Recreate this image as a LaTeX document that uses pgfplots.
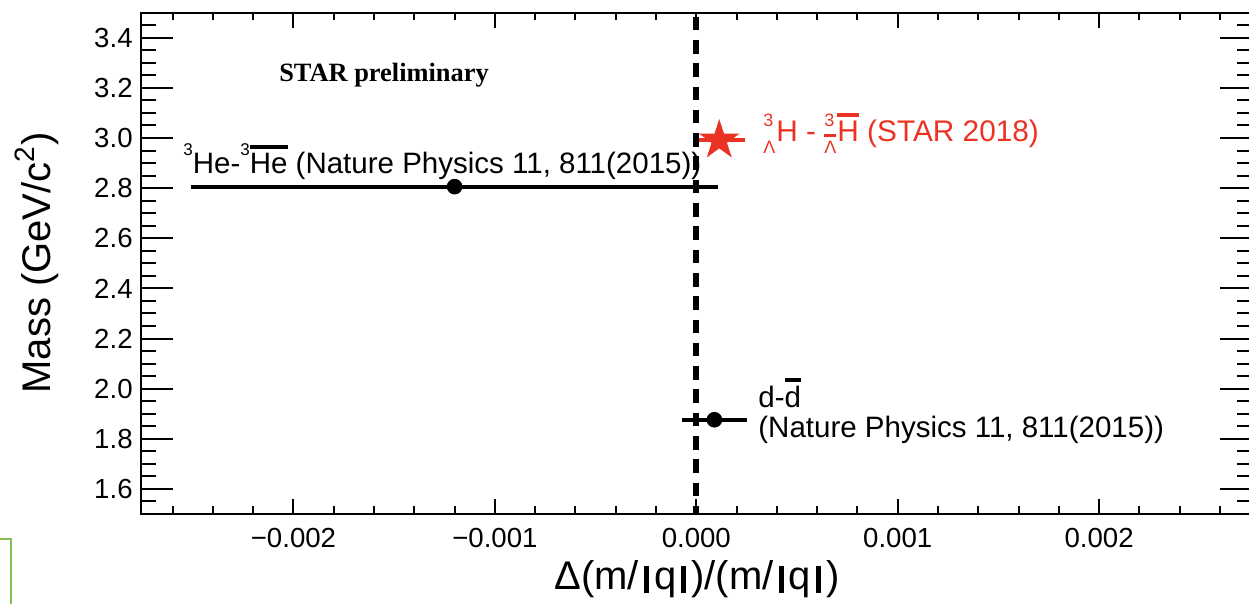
\documentclass[border=0pt]{standalone}
\usepackage{pgfplots}
\pgfplotsset{compat=1.18}
\usepackage{fontspec}
\setmainfont{Liberation Sans}
\newfontfamily\serifb{Liberation Serif}
\definecolor{starred}{RGB}{234,51,35}
\definecolor{boxgreen}{RGB}{130,190,80}
% overline with a thick bar
\newcommand{\ob}[2][1.7pt]{\leavevmode\vbox{\hrule height #1\kern 2.4pt\hbox{#2}}}
\newcommand{\sps}[1]{\raisebox{0.64em}{\fontsize{8.5}{8.5}\selectfont #1}}
\newcommand{\vb}{\hspace{0.13em}\rule[-0.08em]{0.12em}{0.68em}\hspace{0.13em}}
\pgfdeclareplotmark{fstar}{%
  \pgfpathmoveto{\pgfpointpolar{90}{\pgfplotmarksize}}%
  \pgfpathlineto{\pgfpointpolar{126}{0.382\pgfplotmarksize}}%
  \pgfpathlineto{\pgfpointpolar{162}{\pgfplotmarksize}}%
  \pgfpathlineto{\pgfpointpolar{198}{0.382\pgfplotmarksize}}%
  \pgfpathlineto{\pgfpointpolar{234}{\pgfplotmarksize}}%
  \pgfpathlineto{\pgfpointpolar{270}{0.382\pgfplotmarksize}}%
  \pgfpathlineto{\pgfpointpolar{306}{\pgfplotmarksize}}%
  \pgfpathlineto{\pgfpointpolar{342}{0.382\pgfplotmarksize}}%
  \pgfpathlineto{\pgfpointpolar{18}{\pgfplotmarksize}}%
  \pgfpathlineto{\pgfpointpolar{54}{0.382\pgfplotmarksize}}%
  \pgfpathclose
  \pgfusepathqfill
}
\begin{document}
\begin{tikzpicture}
% axis with x ticks and data
\begin{axis}[
  at={(70.5pt,45pt)}, anchor=south west,
  scale only axis, width=555.5pt, height=250.65pt,
  xmin=-0.002757, xmax=0.002759, ymin=1.5, ymax=3.5,
  axis line style={line width=1.1pt},
  xtick={-0.002,-0.001,0,0.001,0.002},
  xticklabels={−0.002,−0.001,0.000,0.001,0.002},
  minor xtick={-0.0026,-0.0024,-0.0022,-0.0018,-0.0016,-0.0014,-0.0012,-0.0008,-0.0006,-0.0004,-0.0002,0.0002,0.0004,0.0006,0.0008,0.0012,0.0014,0.0016,0.0018,0.0022,0.0024,0.0026},
  ytick=\empty,
  scaled x ticks=false,
  major tick length=7.5pt, minor tick length=3.8pt,
  tick style={line width=1pt, black},
  xticklabel style={font=\fontsize{13.8}{16}\selectfont, inner sep=0pt, anchor=north, yshift=-7pt},
  clip=false,
]
\addplot[black, only marks, mark=*, mark size=3.7pt,
  error bars/.cd, x dir=both, x explicit, error mark=none,
  error bar style={line width=2.1pt, black}]
  coordinates {(-0.0012,2.806) +- (0.00131,0)};
\addplot[black, only marks, mark=*, mark size=3.7pt,
  error bars/.cd, x dir=both, x explicit, error mark=none,
  error bar style={line width=2.1pt, black}]
  coordinates {(0.00009,1.876) +- (0.00016,0)};
\addplot[starred, only marks, mark=fstar, mark size=10.6pt,
  error bars/.cd, x dir=both, x explicit, error mark=none,
  error bar style={line width=2.1pt, starred}]
  coordinates {(0.000114,2.991) +- (0.00013,0)};
\addplot[black, line width=3pt, dash pattern=on 6.8pt off 4.85pt, dash phase=9.65pt]
  coordinates {(0,3.5) (0,1.5)};
\end{axis}
% axis with y ticks
\begin{axis}[
  at={(70.5pt,45pt)}, anchor=south west,
  scale only axis, width=555.5pt, height=250.65pt,
  xmin=-0.002757, xmax=0.002759, ymin=1.5, ymax=3.5,
  axis line style={line width=1.1pt},
  xtick=\empty,
  ytick={1.6,1.8,2.0,2.2,2.4,2.6,2.8,3.0,3.2,3.4},
  yticklabels={1.6,1.8,2.0,2.2,2.4,2.6,2.8,3.0,3.2,3.4},
  minor ytick={1.55,1.65,1.7,1.75,1.85,1.9,1.95,2.05,2.1,2.15,2.25,2.3,2.35,2.45,2.5,2.55,2.65,2.7,2.75,2.85,2.9,2.95,3.05,3.1,3.15,3.25,3.3,3.35,3.45},
  major tick length=16pt, minor tick length=7.5pt,
  tick style={line width=1pt, black},
  yticklabel style={font=\fontsize{13.8}{16}\selectfont, inner sep=0pt, anchor=east, xshift=-4pt},
]
\addplot[draw=none] coordinates {(0,2)};
\end{axis}
% labels
\node[rotate=90, anchor=base, font=\fontsize{20}{24}\selectfont] at (25pt,170.5pt) {Mass (GeV/c\textsuperscript{2})};
\node[anchor=base, font=\fontsize{20}{24}\selectfont] at (348.5pt,7pt) {Δ(m/\vb q\vb)/(m/\vb q\vb)};
\node[anchor=base, font=\serifb\bfseries\fontsize{13.2}{15}\selectfont] at (192pt,261pt) {STAR preliminary};
\node[anchor=base west, inner sep=0pt, font=\fontsize{14.75}{16}\selectfont] at (91.5pt,215pt)
  {\sps{3}He-\sps{3}\ob{He} (Nature Physics 11, 811(2015))};
\node[anchor=base west, inner sep=0pt, font=\fontsize{14.75}{16}\selectfont] at (379pt,98pt) {d-\ob{d}};
\node[anchor=base west, inner sep=0pt, font=\fontsize{14.75}{16}\selectfont] at (379pt,83pt) {(Nature Physics 11, 811(2015))};
\node[anchor=base west, inner sep=0pt, text=starred, font=\fontsize{14.9}{16}\selectfont] at (381.5pt,231pt)
  {\makebox[0pt][l]{\raisebox{7.8pt}{\fontsize{9}{9}\selectfont 3}}\raisebox{-6pt}{\fontsize{9}{9}\selectfont Λ}\hspace{0.5pt}H - \makebox[0pt][l]{\raisebox{7.8pt}{\fontsize{9}{9}\selectfont 3}}\raisebox{-6pt}{\fontsize{9}{9}\selectfont\ob[1.5pt]{Λ}}\hspace{0.5pt}\ob[1.7pt]{H} (STAR 2018)};
\draw[boxgreen, line width=1pt] (0,32.5pt) -- (5.5pt,32.5pt) -- (5.5pt,-2pt);
\pgfresetboundingbox
\path (0,0) rectangle (624.5pt,302pt);
\end{tikzpicture}
\end{document}
